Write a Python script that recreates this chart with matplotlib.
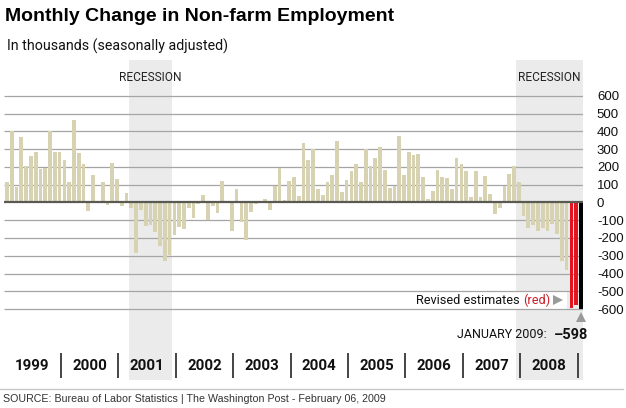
import numpy as np
import matplotlib
matplotlib.use("Agg")
import matplotlib.pyplot as plt
from matplotlib.lines import Line2D
from matplotlib.patches import Rectangle

plt.rcParams['axes.unicode_minus'] = False

# monthly change in non-farm payrolls, thousands, Jan 1999 .. Jan 2009
vals_1999 = [115, 400, 87, 368, 205, 260, 283, 186, 192, 400, 285, 285]
vals_2000 = [240, 115, 463, 280, 218, -48, 156, 3, 115, -14, 225, 132]
vals_2001 = [-18, 53, -33, -284, -44, -132, -126, -165, -244, -328, -295, -183]
vals_2002 = [-138, -150, -29, -89, -10, 40, -100, -20, -59, 120, 2, -160]
vals_2003 = [78, -111, -212, -53, -10, -2, 22, -44, 91, 192, 14, 120]
vals_2004 = [143, 37, 334, 242, 304, 78, 42, 115, 153, 345, 57, 126]
vals_2005 = [177, 216, 115, 304, 205, 252, 315, 183, 83, 93, 374, 153]
vals_2006 = [285, 267, 276, 143, 22, 65, 181, 143, 140, 78, 252, 215]
vals_2007 = [176, 31, 177, 31, 149, 46, -66, -33, 91, 160, 205, 115]
vals_2008 = [-76, -141, -126, -163, -141, -163, -123, -179, -328, -380, -597, -577]
vals_2009 = [-598]

years = ['1999', '2000', '2001', '2002', '2003', '2004', '2005', '2006', '2007', '2008']
recessions = [(26, 34), (107, 120)]   # month index ranges (Mar-Nov 2001, Dec 2007-)
revised = [118, 119]                  # Nov, Dec 2008 revised estimates
yticks = [600, 500, 400, 300, 200, 100, 0, -100, -200, -300, -400, -500, -600]
ylabels = ['600', '500', '400', '300', '200', '100', '0',
           '-100', '-200', '-300', '-400', '-500', '-600']

values = (vals_1999 + vals_2000 + vals_2001 + vals_2002 + vals_2003 + vals_2004
          + vals_2005 + vals_2006 + vals_2007 + vals_2008 + vals_2009)
months = np.arange(len(values))

TAN = '#d6d2b2'
RED = '#e2141f'
SHADE = '#ebebeb'
NARROW = ['Roboto', 'DejaVu Sans']
ARIAL = ['Liberation Sans', 'DejaVu Sans']

W, H = 626, 408
fig = plt.figure(figsize=(W / 100, H / 100), dpi=100)
fig.patch.set_facecolor('white')

# axes spans pixels x 4..583, y 60..380
ax = fig.add_axes([4 / W, 1 - 380 / H, 579 / W, 320 / H])
x0, dx = 7.0, 4.783          # px of month 0 center, px per month
y0, dy = 202.5, 0.1775       # px of zero line, px per thousand
ax.set_xlim((4 - x0) / dx, (583 - x0) / dx)
ax.set_ylim(-(380 - y0) / dy, (y0 - 60) / dy)


def py(px):
    return (y0 - px) / dy


def pxx(px):
    return (px - x0) / dx


for s, e in recessions:
    right = min(e + 0.45, ax.get_xlim()[1])
    ax.axvspan(s - 0.5, right, color=SHADE, lw=0, zorder=0)
    ax.text((s - 0.5 + right) / 2, py(78), 'RECESSION',
            ha='center', va='center', fontsize=8.6, family=NARROW, color='#222')

# white box behind the "revised" note
ax.add_patch(Rectangle((pxx(400), -600), pxx(567) - pxx(400), 100,
                       facecolor='white', edgecolor='none', zorder=0.5))

ax.hlines([t for t in yticks if t != 0], ax.get_xlim()[0], ax.get_xlim()[1],
          color='#a5a5a5', lw=0.9, zorder=1)

colors = [TAN] * len(values)
for i in revised:
    colors[i] = RED
colors[-1] = 'black'
ax.bar(months, values, width=0.78, color=colors, zorder=2)
ax.axhline(0, color='#5b5a52', lw=1.6, zorder=3)

ax.set_yticks(yticks)
ax.set_yticklabels(ylabels)
ax.yaxis.tick_right()
ax.tick_params(axis='y', length=0, pad=10, labelsize=9.5)
for lab in ax.get_yticklabels():
    lab.set_family(ARIAL)
    lab.set_color('#111')
ax.set_xticks([])
for sp in ax.spines.values():
    sp.set_visible(False)
ax.patch.set_alpha(0)

# revised estimates note
red_txt = ax.text(pxx(550), -550, '(red)', ha='right', va='center',
                  fontsize=9.2, family=NARROW, color='#c8202a')
ax.annotate('Revised estimates', xy=(0, 0.5), xycoords=red_txt, xytext=(-2.5, 0),
            textcoords='offset points', ha='right', va='center',
            fontsize=9.2, family=NARROW, color='#111')
ax.plot([pxx(558)], [-550], marker='>', color='#9a9a9a', ms=7, mew=0, clip_on=False)

# latest value callout
ax.plot([months[-1]], [py(317)], marker='^', color='#9a9a9a', ms=7, mew=0, clip_on=False)
val_txt = ax.text(pxx(588), py(335), '\u2013%d' % abs(values[-1]), ha='right', va='center',
                  fontsize=10.5, family=NARROW, weight='bold', color='#111', clip_on=False)
ax.annotate('JANUARY 2009:', xy=(0, 0.5), xycoords=val_txt, xytext=(-5, 0),
            textcoords='offset points', ha='right', va='center',
            fontsize=9, family=NARROW, color='#111')

# year row
seps = [12 * (k + 1) - 0.7 for k in range(len(years))]
ax.vlines(seps, py(378), py(353), color='#444', lw=1.4, clip_on=False)
for k, yr in enumerate(years):
    ax.text(12 * k + 5.3, py(366), yr, ha='center', va='center',
            fontsize=10.8, family=NARROW, weight='bold', color='#111')

# titles
fig.text(5 / W, 1 - 21 / H, 'Monthly Change in Non-farm Employment', ha='left',
         va='baseline', fontsize=14, family=ARIAL, weight='bold', color='black')
fig.text(7 / W, 1 - 51 / H, 'In thousands (seasonally adjusted)', ha='left',
         va='baseline', fontsize=10.3, family=NARROW, color='#111')

fig.add_artist(Line2D([0, 623 / W], [1 - 389 / H] * 2, color='#c8c8c8', lw=1))
fig.text(3 / W, 1 - 399 / H,
         'SOURCE: Bureau of Labor Statistics | The Washington Post - February 06, 2009',
         ha='left', va='center', fontsize=7.7, family=ARIAL, color='#333')

fig.savefig('out.png', dpi=100, facecolor='white')
